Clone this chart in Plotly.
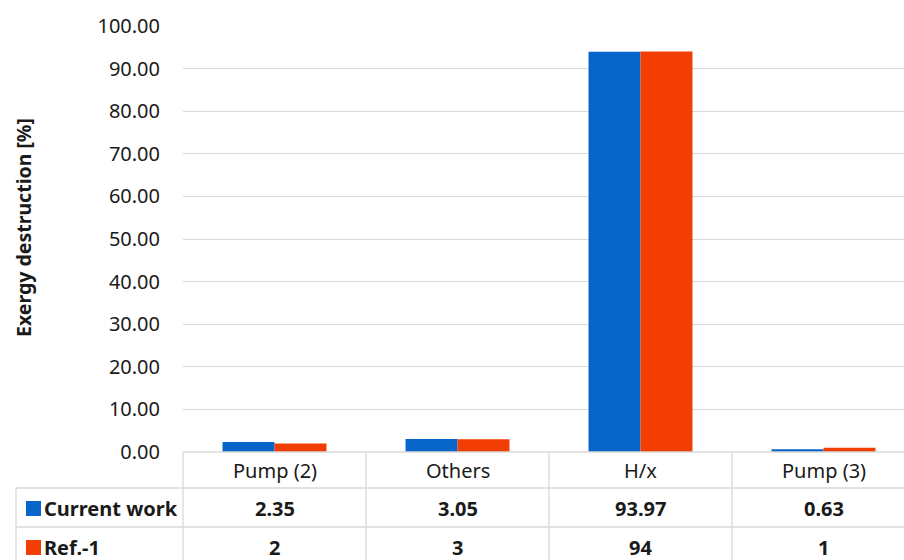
import plotly.graph_objects as go

# Exergy destruction share per component
categories = ["Pump (2)", "Others", "H/x", "Pump (3)"]
current_work = [2.35, 3.05, 93.97, 0.63]
ref_1 = [2, 3, 94, 1]
series_names = ["Current work", "Ref.-1"]
series_colors = ["#0565C9", "#F23E02"]
y_ticks = [0, 10, 20, 30, 40, 50, 60, 70, 80, 90, 100]

W, H = 904, 560
L, T, B = 183, 26, 108
plot_w = W - L
plot_h = H - T - B
grid_col = "#D9D9D9"
txt_col = "#1A1A1A"
FONT = "Noto Sans"


def px_x(px):
    return (px - L) / plot_w


def px_y(py):
    return (H - B - py) / plot_h


idx = list(range(len(categories)))
series = [current_work, ref_1]

fig = go.Figure()
for name, vals, col in zip(series_names, series, series_colors):
    fig.add_trace(go.Bar(x=idx, y=vals, name=name, marker=dict(color=col, line=dict(width=0))))

shapes = []
annotations = []

# Data table under the plot: grid lines
y_bottom = px_y(H + 10)
shapes.append(dict(type="line", xref="paper", yref="paper", x0=0, x1=1, y0=0, y1=0,
                   line=dict(color=grid_col, width=1.3)))
for py in (488, 527):
    shapes.append(dict(type="line", xref="paper", yref="paper", x0=px_x(16), x1=1,
                       y0=px_y(py), y1=px_y(py), line=dict(color=grid_col, width=1.3)))
shapes.append(dict(type="line", xref="paper", yref="paper", x0=px_x(16), x1=px_x(16),
                   y0=px_y(488), y1=y_bottom, line=dict(color=grid_col, width=1.3)))
shapes.append(dict(type="line", xref="paper", yref="paper", x0=0, x1=0,
                   y0=0, y1=y_bottom, line=dict(color=grid_col, width=1.3)))
for b in [i + 0.5 for i in idx[:-1]]:
    shapes.append(dict(type="line", xref="x", yref="paper", x0=b, x1=b,
                       y0=0, y1=y_bottom, line=dict(color=grid_col, width=1.3)))

# Table header row with category names
for i, c in zip(idx, categories):
    annotations.append(dict(x=i, y=px_y(470), xref="x", yref="paper", text=c,
                            xanchor="center", yanchor="middle", showarrow=False,
                            font=dict(size=20, color=txt_col, family=FONT)))

# Value rows with legend keys
row_centers = [508, 547]
for r, (name, vals, col) in enumerate(zip(series_names, series, series_colors)):
    cy = row_centers[r]
    shapes.append(dict(type="rect", xref="paper", yref="paper", x0=px_x(26), x1=px_x(41),
                       y0=px_y(cy - 7), y1=px_y(cy + 8), fillcolor=col, line=dict(width=0)))
    annotations.append(dict(x=px_x(42), y=px_y(cy), xref="paper", yref="paper", text=name,
                            xanchor="left", yanchor="middle", showarrow=False,
                            font=dict(size=20, color=txt_col, family=FONT, weight="bold")))
    for i, v in zip(idx, vals):
        annotations.append(dict(x=i, y=px_y(cy), xref="x", yref="paper", text=f"{v:g}",
                                xanchor="center", yanchor="middle", showarrow=False,
                                font=dict(size=20, color=txt_col, family=FONT, weight="bold")))

# Y-axis title
annotations.append(dict(x=px_x(24), y=px_y(228), xref="paper", yref="paper",
                        text="Exergy destruction [%]", textangle=-90, showarrow=False,
                        xanchor="center", yanchor="middle",
                        font=dict(size=19.5, color=txt_col, family=FONT, weight="bold")))

fig.update_layout(
    width=W, height=H,
    margin=dict(l=L, r=0, t=T, b=B, pad=0),
    paper_bgcolor="white", plot_bgcolor="white",
    barmode="group", bargap=0.432, bargroupgap=0,
    showlegend=False,
    shapes=shapes, annotations=annotations,
    font=dict(family=FONT, color=txt_col),
    xaxis=dict(range=[-0.5, -0.5 + plot_w / 183], showticklabels=False, showgrid=False,
               zeroline=False, showline=False, fixedrange=True),
    yaxis=dict(range=[0, 100], tickvals=y_ticks, ticktext=[f"{v:.2f}" for v in y_ticks],
               showgrid=True, gridcolor=grid_col, gridwidth=1.3, zeroline=False,
               showline=False, ticks="", ticklabelstandoff=22,
               tickfont=dict(size=20, color=txt_col, family=FONT)),
)

fig.write_html("out.html")
